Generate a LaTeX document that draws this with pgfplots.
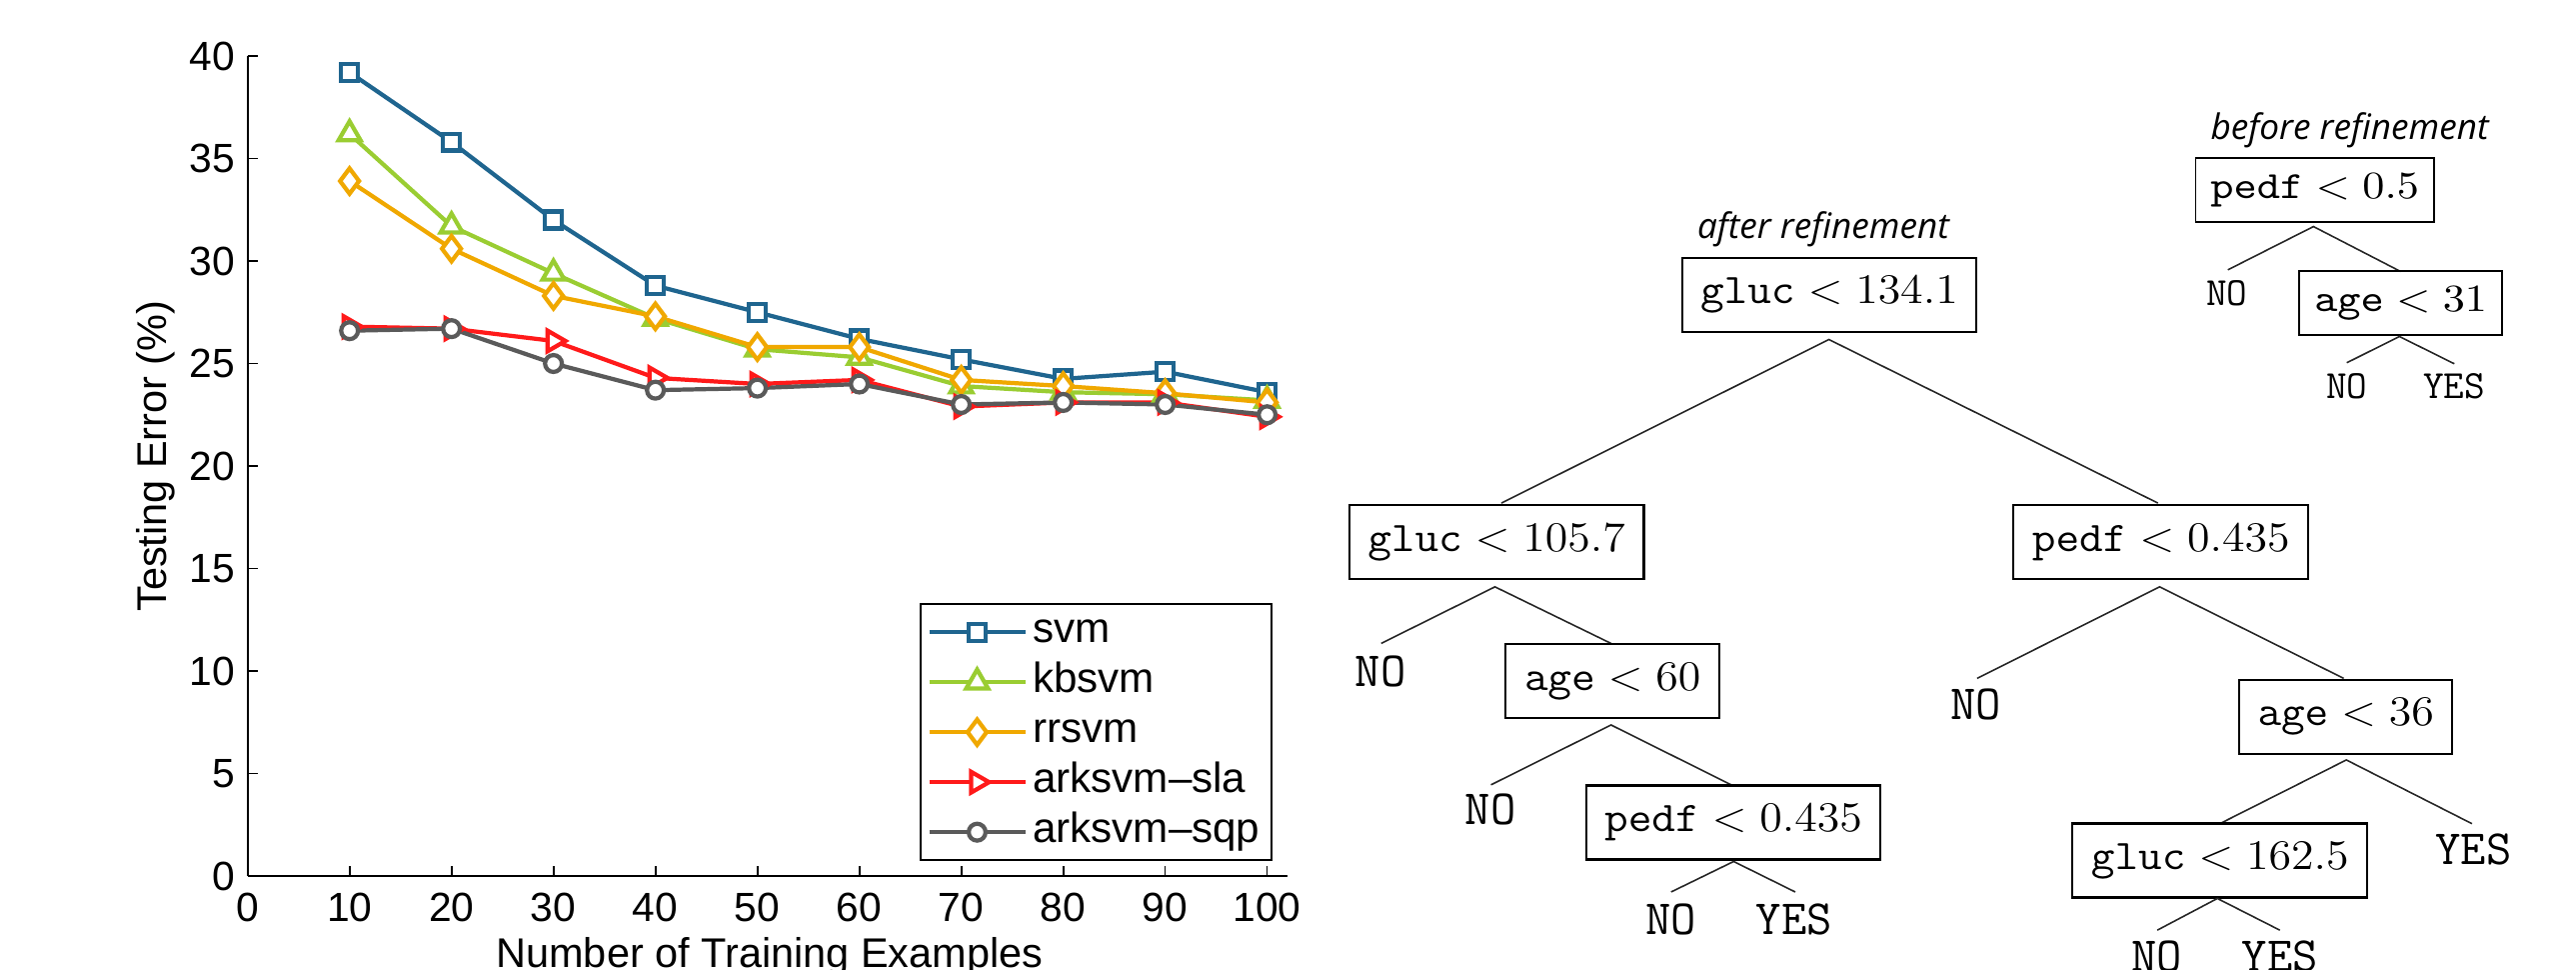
\documentclass[border=0pt]{standalone}
\usepackage[no-math]{fontspec}
\usepackage{graphicx}
\usepackage{pgfplots}
\pgfplotsset{compat=1.18}

\newfontfamily\arial{Liberation Sans}
\newfontfamily\osans{Open Sans}

\definecolor{csvm}{RGB}{31,101,143}
\definecolor{ckb}{RGB}{154,205,50}
\definecolor{crr}{RGB}{240,168,0}
\definecolor{csla}{RGB}{255,26,26}
\definecolor{csqp}{RGB}{90,90,90}

\newcommand{\axfont}{\arial\fontsize{11.6}{13}\selectfont}

\begin{document}
\begin{tikzpicture}
\useasboundingbox (0,0) rectangle (25.77,9.70);

\begin{axis}[
  at={(2.477cm,0.94cm)}, anchor=south west,
  scale only axis, width=10.403cm, height=8.2cm,
  xmin=0, xmax=102, ymin=0, ymax=40,
  axis lines=left, axis line style={-, line width=0.5pt},
  xtick={0,10,...,100}, ytick={0,5,...,40},
  tick align=inside, major tick length=0.1cm,
  tick style={black, line width=0.5pt},
  tick label style={font=\axfont},
  xticklabel style={yshift=-0.05cm},
  /pgf/number format/assume math mode=true,
  label style={font=\arial\fontsize{11.8}{13}\selectfont},
  xlabel={Number of Training Examples},
  ylabel={Testing Error (\%)},
  xlabel style={at={(axis description cs:0.502,-0.112)}, anchor=base},
  ylabel style={at={(axis description cs:-0.088,0.512)}, anchor=center},
  clip=false,
  every axis plot/.append style={line width=1.2pt},
  legend image code/.code={
    \draw[mark repeat=2, mark phase=2] plot coordinates {(0cm,0cm) (0.48cm,0cm) (0.96cm,0cm)};
  },
  legend cell align=left,
  legend style={at={(0.9856,0.018)}, anchor=south east, draw=black, line width=0.6pt,
    font=\arial\fontsize{12}{13}\selectfont, inner xsep=0.06cm, inner ysep=0.03cm, row sep=0pt,
    nodes={inner sep=0.055cm, text height=0.3cm, text depth=0.09cm}},
]
\addplot[color=csvm, mark=square*, mark size=2.4pt,
  mark options={solid, fill=white, line width=1.2pt}] coordinates {
  (10,39.2) (20,35.8) (30,32.0) (40,28.8) (50,27.5) (60,26.2) (70,25.2) (80,24.25) (90,24.6) (100,23.6)};
\addplot[color=ckb, mark=triangle*, mark size=3.6pt,
  mark options={solid, fill=white, line width=1.2pt}] coordinates {
  (10,36.2) (20,31.7) (30,29.4) (40,27.2) (50,25.7) (60,25.3) (70,23.9) (80,23.6) (90,23.5) (100,23.2)};
\addplot[color=crr, mark=diamond*, mark size=3.6pt,
  mark options={solid, fill=white, line width=1.2pt}] coordinates {
  (10,33.9) (20,30.6) (30,28.3) (40,27.3) (50,25.8) (60,25.8) (70,24.2) (80,23.9) (90,23.55) (100,23.1)};
\addplot[color=csla, mark=triangle*, mark size=3.4pt,
  mark options={solid, fill=white, line width=1.2pt, rotate=-90}] coordinates {
  (10,26.8) (20,26.7) (30,26.1) (40,24.3) (50,24.0) (60,24.2) (70,22.9) (80,23.1) (90,23.1) (100,22.4)};
\addplot[color=csqp, mark=*, mark size=2.4pt,
  mark options={solid, fill=white, line width=1.2pt}] coordinates {
  (10,26.6) (20,26.7) (30,25.0) (40,23.7) (50,23.8) (60,24.0) (70,23.0) (80,23.1) (90,23.0) (100,22.5)};
\legend{svm, kbsvm, rrsvm, arksvm–sla, arksvm–sqp}
\end{axis}

% decision trees, in pixel units of the reference (y downwards)
\begin{scope}[x=0.01cm, y=-0.01cm, yshift=9.7cm,
  bx/.style={draw=black, line width=0.6pt, inner xsep=0.185cm, inner ysep=0pt, minimum height=0.74cm,
    font=\fontsize{12.8}{14}\selectfont},
  sbx/.style={draw=black, line width=0.5pt, inner xsep=0.15cm, inner ysep=0pt, minimum height=0.64cm,
    font=\fontsize{10.5}{12}\selectfont},
  lf/.style={font=\ttfamily\fontsize{14}{16}\selectfont, inner sep=0pt},
  slf/.style={font=\ttfamily\fontsize{11.4}{13}\selectfont, inner sep=0pt},
  ed/.style={draw=black!85, line width=0.45pt},
  ttl/.style={font=\osans\itshape\fontsize{10}{12}\selectfont, inner sep=0pt}]

\newcommand{\bt}[1]{\scalebox{1.09}[1]{$#1$}}
\newcommand{\st}[1]{\scalebox{1.15}[1]{$#1$}}

\node[ttl] at (1825,229) {after refinement};
\node[bx] at (1831,295) {\bt{\mathtt{gluc}<134.1}};
\draw[ed] (1502.8,503.4) -- (1830.7,339.7) -- (2160,503.4);

\node[bx] at (1498,542.5) {\bt{\mathtt{gluc}<105.7}};
\draw[ed] (1382.5,643.8) -- (1496.4,587.2) -- (1612.6,643.8);
\node[lf] at (1382,672) {NO};
\node[bx] at (1614,681.6) {\bt{\mathtt{age}<60}};
\draw[ed] (1492.4,785.3) -- (1612.6,725.4) -- (1732.9,785.3);
\node[lf] at (1492,810) {NO};
\node[bx] at (1735,823) {\bt{\mathtt{pedf}<0.435}};
\draw[ed] (1672.7,892.5) -- (1735.3,862) -- (1797,892.5);
\node[lf] at (1672.7,920) {NO};
\node[lf] at (1796,920) {YES};

\node[bx] at (2163,542.5) {\bt{\mathtt{pedf}<0.435}};
\draw[ed] (1979,678.8) -- (2161.7,587.2) -- (2346,678.8);
\node[lf] at (1978,705) {NO};
\node[bx] at (2348,717) {\bt{\mathtt{age}<36}};
\draw[ed] (2221.9,824.2) -- (2348.6,760.4) -- (2474.4,824.2);
\node[lf] at (2476,850) {YES};
\node[bx] at (2222,861) {\bt{\mathtt{gluc}<162.5}};
\draw[ed] (2159.4,930.7) -- (2219.5,899) -- (2282,930.7);
\node[lf] at (2159,957) {NO};
\node[lf] at (2282,957) {YES};

\node[ttl] at (2352,130.5) {before refinement};
\node[sbx] at (2317,190) {\st{\mathtt{pedf}<0.5}};
\draw[ed] (2230,270) -- (2315.7,226.7) -- (2403,271.7);
\node[slf] at (2229,293.5) {NO};
\node[sbx] at (2403,303.5) {\st{\mathtt{age}<31}};
\draw[ed] (2349,363) -- (2401.7,336.7) -- (2456.7,364);
\node[slf] at (2349,386.5) {NO};
\node[slf] at (2456.7,386.5) {YES};
\end{scope}
\end{tikzpicture}
\end{document}
